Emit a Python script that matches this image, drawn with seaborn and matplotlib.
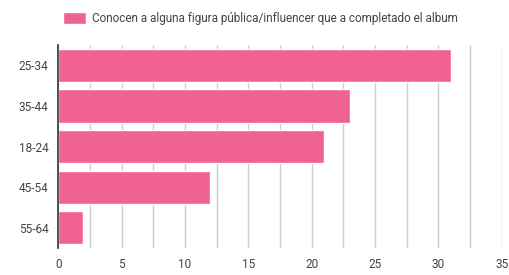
import numpy as np
import pandas as pd
import matplotlib
matplotlib.use("Agg")
import matplotlib.pyplot as plt
import seaborn as sns
from matplotlib.ticker import MultipleLocator

edades = ['25-34', '35-44', '18-24', '45-54', '55-64']
conocen = [31, 23, 21, 12, 2]
serie = 'Conocen a alguna figura pública/influencer que a completado el album'

df = pd.DataFrame({'Edad': edades, 'Personas': conocen})

sns.set_style('white')
plt.rcParams['font.family'] = ['Roboto', 'DejaVu Sans']

fig = plt.figure(figsize=(5.1, 2.75), dpi=100)
ax = fig.add_axes([0.114, 0.098, 0.87, 0.738])

sns.barplot(data=df, x='Personas', y='Edad', color='#f06292', saturation=1,
            width=0.82, ax=ax, label=serie)

ax.set_xlim(0, 35)
ax.xaxis.set_major_locator(MultipleLocator(5))
ax.xaxis.set_minor_locator(MultipleLocator(2.5))
ax.grid(axis='x', which='both', color='#cfcfcf', linewidth=1)
ax.set_axisbelow(True)
for s in ['top', 'right', 'bottom']:
    ax.spines[s].set_visible(False)
ax.spines['left'].set_color('#333333')
ax.spines['left'].set_linewidth(1.2)
ax.tick_params(axis='both', length=0, labelsize=8.5, labelcolor='#444444', pad=7)
ax.set_xlabel('')
ax.set_ylabel('')

ax.legend(loc='lower left', bbox_to_anchor=(-0.0, 1.075), frameon=False,
          fontsize=8.5, labelcolor='#444444', handlelength=2.0, handleheight=1.1,
          borderaxespad=0, handletextpad=0.5)

fig.savefig('out.png', dpi=100)
